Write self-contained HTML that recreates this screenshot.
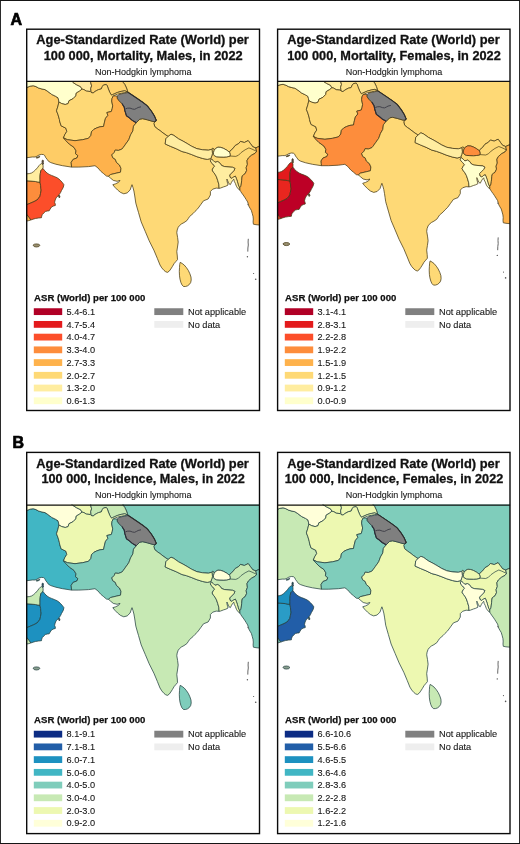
<!DOCTYPE html>
<html><head><meta charset="utf-8"><title>Non-Hodgkin lymphoma ASR maps</title>
<style>
html,body{margin:0;padding:0;background:#fff;}
body{width:520px;height:844px;overflow:hidden;font-family:"Liberation Sans",sans-serif;}
svg{display:block;will-change:transform}
text{font-family:"Liberation Sans",sans-serif;fill:#111}
.t1{font-weight:bold;font-size:12.8px;stroke:#111;stroke-width:0.3px}
.t3{font-size:8.6px;fill:#161616;stroke:#161616;stroke-width:0.1px}
.lt{font-weight:bold;font-size:9.5px;stroke:#111;stroke-width:0.25px}
.ll{font-size:9.2px;fill:#161616;stroke:#161616;stroke-width:0.1px}
.pl{font-weight:bold;font-size:16px;fill:#000;stroke:#000;stroke-width:0.7px}
.c{stroke-width:0.75;stroke-linejoin:round}
</style></head><body>
<svg width="520" height="844" viewBox="0 0 520 844">
<rect x="0" y="0" width="520" height="844" fill="#fff"/>
<path d="M0 0H520V844H0Z M0.9 0.95V842.9H519.1V0.95Z" fill="#151515" fill-rule="evenodd"/>
<text class="pl" x="10.4" y="25.0">A</text>
<text class="pl" x="12.45" y="447.65">B</text>

<g>
<clipPath id="cp0"><rect x="26.7" y="81.3" width="232.8" height="329.2"/></clipPath>
<g clip-path="url(#cp0)"><g transform="translate(0.0 0.0)">
<g style="stroke:#453a16">
<path class="c" fill="#fed976" d="M127.7 92.0 L126.5 88.0 L124.8 84.5 L123.0 82.2 L122.0 74.0 L268.0 74.0 L268.0 146.0 L259.3 146.4 L258.2 146.8 L255.8 147.9 L252.8 146.8 L250.5 143.7 L248.2 140.6 L244.3 142.5 L240.5 141.4 L238.5 143.7 L235.1 145.6 L232.8 148.7 L229.9 151.2 L229.6 152.3 L226.8 150.2 L223.8 148.5 L220.8 147.4 L217.9 147.2 L215.4 148.6 L214.3 150.2 L213.8 148.9 L212.8 148.3 L211.9 149.2 L208.5 150.2 L202.7 149.8 L196.9 148.7 L191.7 146.3 L187.1 143.5 L183.1 141.2 L178.5 138.8 L173.8 135.4 L171.0 134.2 L168.1 136.5 L164.0 133.7 L160.0 130.6 L157.5 128.9 L154.8 126.7 L153.8 123.3 L155.0 121.6 L156.3 120.4 L154.2 115.6 L151.3 111.0 L147.3 105.8 L142.7 102.3 L136.9 98.3 L131.7 94.8 L128.3 92.5 L127.7 92.0Z"/>
<path class="c" fill="#fecc66" d="M18.0 88.2 L26.8 87.5 L30.0 86.2 L33.2 85.7 L36.0 86.6 L38.6 88.0 L42.0 89.0 L45.0 89.6 L47.9 91.5 L51.7 94.4 L55.6 96.3 L58.0 97.8 L58.6 100.0 L58.9 102.1 L58.0 106.0 L56.5 110.8 L58.0 114.6 L59.4 119.4 L59.6 121.0 L61.1 125.8 L65.9 128.2 L66.8 131.5 L64.9 134.4 L63.5 137.8 L65.9 140.7 L69.2 144.0 L74.0 147.4 L76.0 150.8 L75.5 153.7 L77.9 155.6 L76.9 158.0 L73.1 159.4 L71.2 162.3 L71.4 165.0 L71.6 167.1 L62.5 165.7 L55.8 164.2 L50.8 162.6 L48.6 161.4 L47.0 159.2 L45.6 157.4 L44.8 155.6 L43.5 154.6 L41.5 154.4 L39.0 155.0 L37.0 156.2 L35.0 157.0 L32.3 157.0 L26.9 157.7 L18.0 158.2Z"/>
<path class="c" fill="#ffffcc" d="M58.9 102.1 L58.6 100.0 L58.0 97.8 L55.6 96.3 L51.7 94.4 L47.9 91.5 L45.0 89.6 L42.0 89.0 L38.6 88.0 L36.0 86.6 L33.2 85.7 L30.0 86.2 L26.8 87.5 L18.0 88.2 L18.0 74.0 L71.0 74.0 L71.5 81.0 L72.9 82.4 L76.7 84.8 L80.6 86.7 L82.0 89.1 L79.6 91.1 L76.3 93.0 L75.8 95.9 L72.9 98.8 L69.0 100.7 L68.1 103.6 L65.2 104.5 L61.8 103.6 L58.9 102.1Z"/>
<path class="c" fill="#ffe9a0" d="M82.0 89.1 L80.6 86.7 L76.7 84.8 L72.9 82.4 L71.5 81.0 L71.0 74.0 L91.0 74.0 L90.7 82.4 L91.6 85.8 L90.7 88.7 L91.2 92.5 L90.2 91.5 L86.3 91.1 L83.9 89.6 L82.0 89.1Z"/>
<path class="c" fill="#fed26e" d="M91.2 92.5 L90.7 88.7 L91.6 85.8 L90.7 82.4 L91.0 74.0 L122.0 74.0 L123.0 82.2 L124.8 84.5 L126.5 88.0 L127.7 92.0 L124.8 90.8 L121.3 91.4 L117.3 92.5 L112.7 94.6 L111.5 95.2 L109.8 92.5 L108.0 88.0 L107.4 86.0 L106.3 84.5 L103.5 85.0 L102.3 86.6 L101.2 89.0 L98.5 89.6 L96.2 90.8 L95.0 91.5 L93.1 93.0 L91.2 92.5Z"/>
<path class="c" fill="#fed976" d="M58.9 102.1 L61.8 103.6 L65.2 104.5 L68.1 103.6 L69.0 100.7 L72.9 98.8 L75.8 95.9 L76.3 93.0 L79.6 91.1 L82.0 89.1 L83.9 89.6 L86.3 91.1 L90.2 91.5 L91.2 92.5 L93.1 93.0 L95.0 91.5 L96.2 90.8 L98.5 89.6 L101.2 89.0 L102.3 86.6 L103.5 85.0 L106.3 84.5 L107.4 86.0 L108.0 88.0 L109.8 92.5 L111.5 95.2 L112.7 94.6 L117.3 92.5 L121.3 91.4 L124.8 90.8 L127.7 92.0 L124.8 92.6 L121.5 93.2 L117.3 94.2 L113.3 95.9 L112.1 98.3 L111.7 101.0 L112.7 105.8 L112.2 108.7 L111.3 111.5 L106.9 112.5 L107.9 115.4 L105.5 118.3 L104.5 122.1 L104.1 124.0 L103.6 126.4 L100.0 126.8 L96.8 127.9 L93.9 129.3 L91.5 131.7 L90.9 135.4 L88.5 138.3 L82.7 139.7 L75.0 140.7 L67.3 139.7 L63.5 137.8 L64.9 134.4 L66.8 131.5 L65.9 128.2 L61.1 125.8 L59.6 121.0 L59.4 119.4 L58.0 114.6 L56.5 110.8 L58.0 106.0 L58.9 102.1Z"/>
<path class="c" fill="#feb24c" d="M63.5 137.8 L67.3 139.7 L75.0 140.7 L82.7 139.7 L88.5 138.3 L90.9 135.4 L91.5 131.7 L93.9 129.3 L96.8 127.9 L100.0 126.8 L103.6 126.4 L104.1 124.0 L104.5 122.1 L105.5 118.3 L107.9 115.4 L106.9 112.5 L111.3 111.5 L112.2 108.7 L112.7 105.8 L111.7 101.0 L112.1 98.3 L113.3 95.9 L117.3 96.0 L117.3 98.3 L119.0 100.6 L121.9 103.5 L124.2 107.0 L124.8 110.4 L126.5 115.8 L129.4 117.9 L132.3 120.4 L136.3 122.7 L133.5 126.2 L132.9 130.8 L130.6 134.8 L128.8 139.7 L125.6 144.2 L123.1 147.7 L121.9 149.1 L118.5 150.4 L115.2 150.1 L114.2 152.5 L111.8 154.9 L112.8 157.8 L115.2 159.2 L116.6 162.6 L119.5 165.0 L121.0 168.4 L120.5 172.2 L116.2 173.2 L110.4 174.6 L108.5 176.3 L106.5 176.1 L103.7 173.7 L100.8 171.3 L97.9 167.9 L95.0 165.7 L93.0 166.0 L88.5 166.6 L78.8 167.1 L71.6 167.1 L71.4 165.0 L71.2 162.3 L73.1 159.4 L76.9 158.0 L77.9 155.6 L75.5 153.7 L76.0 150.8 L74.0 147.4 L69.2 144.0 L65.9 140.7 L63.5 137.8Z"/>
<path class="c" fill="#fed976" d="M108.5 176.3 L110.4 174.6 L116.2 173.2 L120.5 172.2 L121.0 168.4 L119.5 165.0 L116.6 162.6 L115.2 159.2 L112.8 157.8 L111.8 154.9 L114.2 152.5 L115.2 150.1 L118.5 150.4 L121.9 149.1 L123.1 147.7 L125.6 144.2 L128.8 139.7 L130.6 134.8 L132.9 130.8 L133.5 126.2 L136.3 122.7 L139.8 119.2 L142.7 118.7 L147.3 119.8 L153.1 121.5 L155.0 121.6 L153.8 123.3 L154.8 126.7 L157.5 128.9 L160.0 130.6 L164.0 133.7 L168.1 136.5 L165.8 138.8 L165.2 144.0 L170.4 146.3 L176.2 148.7 L181.9 151.5 L186.5 152.7 L191.2 154.4 L196.9 156.7 L202.7 158.5 L207.3 159.4 L210.8 158.5 L211.8 156.0 L212.5 153.3 L211.9 149.2 L212.8 148.3 L213.8 148.9 L214.3 150.2 L213.5 152.3 L213.5 154.3 L214.6 155.9 L216.7 156.8 L220.0 157.0 L223.8 157.1 L226.5 156.9 L229.8 156.3 L230.2 154.6 L229.6 152.3 L229.9 151.2 L232.8 148.7 L235.1 145.6 L238.5 143.7 L240.5 141.4 L244.3 142.5 L248.2 140.6 L250.5 143.7 L252.8 146.8 L255.8 147.9 L256.6 151.4 L255.1 153.3 L251.6 155.2 L248.5 157.9 L247.0 160.6 L247.4 164.5 L246.2 167.5 L246.6 170.6 L245.1 173.7 L243.5 174.8 L242.3 175.8 L241.9 178.0 L241.7 180.5 L241.4 183.0 L241.1 185.3 L240.6 186.7 L239.9 187.7 L239.2 187.3 L238.1 184.2 L237.3 181.2 L236.2 178.1 L235.4 176.2 L233.5 176.9 L231.9 178.5 L230.0 177.3 L229.6 175.0 L231.5 173.1 L233.8 170.8 L235.0 168.5 L232.7 167.3 L228.1 166.9 L224.2 166.5 L221.5 165.4 L220.0 163.1 L217.7 161.5 L215.0 162.3 L213.3 160.6 L211.4 159.0 L210.4 160.8 L211.0 162.3 L212.6 163.8 L214.6 166.2 L213.3 167.7 L212.1 170.0 L213.5 172.3 L215.0 174.2 L216.5 176.9 L217.7 180.4 L218.8 184.2 L219.1 188.3 L216.2 188.1 L212.7 189.2 L210.4 191.5 L210.4 195.0 L208.1 199.0 L203.5 200.8 L200.6 204.8 L197.7 208.8 L195.0 211.4 L193.1 213.5 L189.6 216.5 L188.3 218.5 L186.9 220.6 L184.0 222.6 L181.5 223.9 L179.3 225.8 L178.2 227.3 L177.2 230.0 L176.8 232.7 L177.6 237.5 L178.2 242.1 L177.5 247.0 L176.8 251.5 L177.3 256.0 L177.5 259.6 L175.8 261.6 L174.1 263.6 L172.4 266.5 L170.8 269.0 L169.2 271.2 L167.4 272.4 L165.6 271.7 L164.0 270.4 L161.8 267.9 L160.0 265.0 L157.3 258.3 L153.9 250.2 L149.2 240.8 L145.2 231.3 L141.2 221.9 L138.5 212.5 L136.9 207.0 L135.8 203.1 L135.2 199.0 L134.6 195.0 L133.9 191.0 L133.0 187.6 L132.0 184.7 L131.1 187.1 L130.1 190.0 L127.2 192.9 L123.8 193.8 L120.5 192.4 L117.6 190.0 L114.7 187.1 L112.8 184.7 L115.7 183.8 L118.6 182.3 L120.0 180.4 L117.1 181.3 L113.3 180.4 L110.4 178.0 L108.5 176.3Z"/>
<path class="c" fill="#ffeda0" d="M168.1 136.5 L171.0 134.2 L173.8 135.4 L178.5 138.8 L183.1 141.2 L187.1 143.5 L191.7 146.3 L196.9 148.7 L202.7 149.8 L208.5 150.2 L211.9 149.2 L212.5 153.3 L211.8 156.0 L210.8 158.5 L207.3 159.4 L202.7 158.5 L196.9 156.7 L191.2 154.4 L186.5 152.7 L181.9 151.5 L176.2 148.7 L170.4 146.3 L165.2 144.0 L165.8 138.8 L168.1 136.5Z"/>
<path class="c" fill="#ffffcc" d="M214.3 150.2 L215.4 148.6 L217.9 147.2 L220.8 147.4 L223.8 148.5 L226.8 150.2 L229.6 152.3 L230.2 154.6 L229.8 156.3 L226.5 156.9 L223.8 157.1 L220.0 157.0 L216.7 156.8 L214.6 155.9 L213.5 154.3 L213.5 152.3 L214.3 150.2Z"/>
<path class="c" fill="#ffeda0" d="M210.4 160.8 L211.4 159.0 L213.3 160.6 L215.0 162.3 L217.7 161.5 L220.0 163.1 L221.5 165.4 L224.2 166.5 L228.1 166.9 L232.7 167.3 L235.0 168.5 L233.8 170.8 L231.5 173.1 L229.6 175.0 L230.0 177.3 L231.9 178.5 L233.5 176.9 L235.4 176.2 L236.2 178.1 L237.3 181.2 L238.1 184.2 L239.2 187.3 L239.9 187.7 L239.9 190.1 L238.1 188.8 L236.5 186.5 L235.4 183.5 L234.2 181.2 L233.8 179.2 L232.7 180.4 L231.5 182.3 L230.4 184.6 L229.2 184.0 L228.3 182.2 L227.5 180.3 L226.9 179.0 L227.0 181.0 L227.6 183.4 L228.1 185.0 L225.8 186.2 L223.5 186.9 L220.4 188.1 L219.1 188.3 L218.8 184.2 L217.7 180.4 L216.5 176.9 L215.0 174.2 L213.5 172.3 L212.1 170.0 L213.3 167.7 L214.6 166.2 L212.6 163.8 L211.0 162.3 L210.4 160.8Z"/>
<path class="c" fill="#feb24c" d="M255.8 147.9 L258.2 146.8 L259.3 146.4 L268.0 146.0 L268.0 225.2 L259.3 225.0 L256.0 224.7 L253.4 224.2 L253.1 222.0 L253.3 219.0 L253.0 216.3 L252.2 213.3 L251.3 210.3 L250.0 208.2 L248.9 206.2 L248.2 204.0 L247.7 202.0 L246.2 199.6 L244.7 197.2 L243.2 195.0 L241.7 193.0 L240.8 191.6 L239.9 190.1 L239.9 187.7 L240.6 186.7 L241.1 185.3 L241.4 183.0 L241.7 180.5 L241.9 178.0 L242.3 175.8 L243.5 174.8 L245.1 173.7 L246.6 170.6 L246.2 167.5 L247.4 164.5 L247.0 160.6 L248.5 157.9 L251.6 155.2 L255.1 153.3 L256.6 151.4 L255.8 147.9Z"/>
<path class="c" fill="#fed976" d="M180.2 262.3 L182.2 263.5 L184.2 265.0 L186.4 267.6 L188.3 270.4 L189.9 273.8 L191.0 277.1 L191.2 280.0 L190.7 282.5 L189.4 284.4 L187.6 285.8 L185.5 286.5 L183.5 286.5 L182.0 284.9 L180.9 282.5 L180.0 279.2 L179.5 275.8 L179.3 271.5 L179.5 267.7 L179.7 264.6Z"/>
<path class="c" fill="#fd8d3c" d="M18.0 180.4 L26.9 180.8 L31.0 181.1 L35.4 181.5 L37.8 182.0 L40.0 182.3 L40.6 185.5 L40.8 188.5 L41.2 190.0 L40.5 193.5 L40.0 196.2 L38.6 198.2 L37.0 200.0 L34.0 201.6 L30.8 203.0 L26.9 204.6 L18.0 208.0Z"/>
<path class="c" fill="#ffeda0" d="M18.0 174.5 L26.9 173.8 L29.3 173.6 L31.5 173.0 L33.5 171.7 L35.4 170.0 L37.4 167.8 L39.2 165.4 L40.4 164.2 L41.6 163.6 L42.6 164.2 L43.1 165.6 L43.1 167.0 L43.0 168.5 L41.8 169.5 L40.8 170.8 L40.3 173.5 L40.0 176.2 L40.0 179.3 L40.0 182.3 L37.8 182.0 L35.4 181.5 L31.0 181.1 L26.9 180.8 L18.0 180.4Z"/>
<path class="c" fill="#fc4e2a" d="M43.0 168.5 L44.8 170.8 L47.0 173.0 L49.2 174.4 L51.5 175.4 L54.3 176.5 L57.0 177.7 L59.0 179.1 L60.8 180.8 L62.5 182.7 L63.9 184.7 L63.4 187.0 L62.3 189.2 L61.5 190.5 L60.6 192.5 L59.2 194.6 L57.8 196.2 L56.2 197.7 L55.2 200.0 L54.6 202.3 L55.2 203.8 L55.4 205.4 L53.5 206.0 L51.5 207.0 L50.2 209.0 L49.2 210.8 L47.3 211.0 L45.4 211.5 L43.8 213.0 L42.3 214.6 L41.7 216.2 L41.5 217.7 L38.5 218.0 L35.4 218.5 L33.0 219.2 L30.8 220.0 L29.0 217.5 L26.9 214.6 L18.0 208.5 L18.0 208.0 L26.9 204.6 L30.8 203.0 L34.0 201.6 L37.0 200.0 L38.6 198.2 L40.0 196.2 L40.5 193.5 L41.2 190.0 L40.8 188.5 L40.6 185.5 L40.0 182.3 L40.0 179.3 L40.0 176.2 L40.3 173.5 L40.8 170.8 L41.8 169.5 L43.0 168.5Z"/>
<path class="c" fill="#feb24c" d="M30.8 220.0 L29.0 217.5 L26.9 214.6 L18.0 208.5 L18.0 222.0 L26.9 221.0 L28.8 220.6 L30.8 220.0Z"/>
<path class="c" fill="#5b4b55" d="M42.2 160.4 L42.9 160.0 L43.4 160.8 L43.3 162.4 L43.5 164.0 L42.8 164.5 L42.2 163.2 L42.0 161.6Z"/>
<path class="c" fill="#5b4b55" d="M58.7 195.2 L59.6 195.5 L60.0 197.0 L59.3 197.9 L58.7 196.8Z"/>
<path class="c" fill="#6b6040" d="M36.3 157.6 L38.2 156.9 L39.6 156.3 L39.8 156.9 L38.4 157.7 L36.6 158.2Z"/>
<path class="c" fill="#9a9070" d="M33.0 245.2 L34.4 244.2 L36.6 243.9 L38.8 244.3 L40.0 245.4 L38.8 246.6 L36.4 247.0 L34.2 246.6Z"/>
<path class="c" fill="#7f7f7f" d="M117.3 96.0 L119.0 94.3 L124.8 93.1 L128.3 92.5 L131.7 94.8 L136.9 98.3 L142.7 102.3 L147.3 105.8 L151.3 111.0 L154.2 115.6 L156.3 120.4 L155.0 121.6 L153.1 121.5 L147.3 119.8 L142.7 118.7 L139.8 119.2 L136.3 122.7 L132.3 120.4 L129.4 117.9 L126.5 115.8 L124.8 110.4 L124.2 107.0 L121.9 103.5 L119.0 100.6 L117.3 98.3Z"/>
</g>
<path d="M125.3 108.9 L127.5 108.2 L130.0 108.1 L132.5 109.0 L134.6 109.3 L136.5 108.4 L138.1 107.5 L141.0 106.8" fill="none" stroke="#3a3a44" stroke-width="0.9"/>
<path d="M127.7 92.0 L128.3 92.5 L131.7 94.8 L136.9 98.3 L142.7 102.3 L147.3 105.8 L151.3 111.0 L154.2 115.6 L156.3 120.4 L155.0 121.6" fill="none" stroke="#2c2c2c" stroke-width="1.1"/>
<path d="M121.9 103.5 L124.2 107.0 L124.8 110.4 L126.5 115.8 L129.4 117.9 L132.3 120.4 L136.3 122.7" fill="none" stroke="#2c2c38" stroke-width="1.1"/>
<path d="M229.9 156.0 L235.8 156.4 L238.5 155.2 L241.2 152.5 L245.1 149.8 L248.9 147.9 L252.0 149.1 L255.1 150.6 L256.6 151.4" fill="none" stroke="#453a16" stroke-width="0.7"/>
<path d="M248.3 238.8 L248.1 242.0 L248.3 245.0 L247.9 248.0 L247.8 251.6" fill="none" stroke="#555" stroke-width="0.9"/>
<circle cx="247.4" cy="256.8" r="0.7" fill="#555"/>
<circle cx="253.6" cy="273.5" r="0.6" fill="#555"/>
<circle cx="255.7" cy="279.3" r="0.8" fill="#555"/>
<circle cx="248.0" cy="204.6" r="0.6" fill="#555"/>
</g></g>
<rect x="26.7" y="29.2" width="232.8" height="381.3" fill="none" stroke="#0a0a0a" stroke-width="1.4"/>
<line x1="26.7" y1="81.3" x2="259.5" y2="81.3" stroke="#111" stroke-width="1.3"/>
<text class="t1" text-anchor="middle" x="142.6" y="43.8" textLength="212.5" lengthAdjust="spacingAndGlyphs">Age-Standardized Rate (World) per</text>
<text class="t1" text-anchor="middle" x="143.2" y="59.5" textLength="199.0" lengthAdjust="spacingAndGlyphs">100 000, Mortality, Males, in 2022</text>
<text class="t3" text-anchor="middle" x="143.2" y="75.1" textLength="96.6" lengthAdjust="spacingAndGlyphs">Non-Hodgkin lymphoma</text>
<text class="lt" x="34.1" y="300.9" textLength="111.3" lengthAdjust="spacingAndGlyphs">ASR (World) per 100 000</text>
<rect x="33.8" y="308.25" width="28.4" height="6.8" fill="#b10026"/>
<text class="ll" x="66.5" y="314.85">5.4-6.1</text>
<rect x="33.8" y="320.98" width="28.4" height="6.8" fill="#e31a1c"/>
<text class="ll" x="66.5" y="327.58">4.7-5.4</text>
<rect x="33.8" y="333.71" width="28.4" height="6.8" fill="#fc4e2a"/>
<text class="ll" x="66.5" y="340.31">4.0-4.7</text>
<rect x="33.8" y="346.44" width="28.4" height="6.8" fill="#fd8d3c"/>
<text class="ll" x="66.5" y="353.04">3.3-4.0</text>
<rect x="33.8" y="359.17" width="28.4" height="6.8" fill="#feb24c"/>
<text class="ll" x="66.5" y="365.77">2.7-3.3</text>
<rect x="33.8" y="371.90" width="28.4" height="6.8" fill="#fed976"/>
<text class="ll" x="66.5" y="378.50">2.0-2.7</text>
<rect x="33.8" y="384.63" width="28.4" height="6.8" fill="#ffeda0"/>
<text class="ll" x="66.5" y="391.23">1.3-2.0</text>
<rect x="33.8" y="397.36" width="28.4" height="6.8" fill="#ffffcc"/>
<text class="ll" x="66.5" y="403.96">0.6-1.3</text>
<rect x="154.3" y="308.25" width="29" height="6.8" fill="#808080"/>
<text class="ll" x="188.0" y="314.85">Not applicable</text>
<rect x="154.3" y="320.98" width="29" height="6.8" fill="#eeeeee"/>
<text class="ll" x="188.0" y="327.58">No data</text>
</g>
<g>
<clipPath id="cp1"><rect x="277.6" y="81.3" width="232.4" height="329.2"/></clipPath>
<g clip-path="url(#cp1)"><g transform="translate(249.9 -1.4)">
<g style="stroke:#453a16">
<path class="c" fill="#fed976" d="M127.7 92.0 L126.5 88.0 L124.8 84.5 L123.0 82.2 L122.0 74.0 L268.0 74.0 L268.0 146.0 L259.3 146.4 L258.2 146.8 L255.8 147.9 L252.8 146.8 L250.5 143.7 L248.2 140.6 L244.3 142.5 L240.5 141.4 L238.5 143.7 L235.1 145.6 L232.8 148.7 L229.9 151.2 L229.6 152.3 L226.8 150.2 L223.8 148.5 L220.8 147.4 L217.9 147.2 L215.4 148.6 L214.3 150.2 L213.8 148.9 L212.8 148.3 L211.9 149.2 L208.5 150.2 L202.7 149.8 L196.9 148.7 L191.7 146.3 L187.1 143.5 L183.1 141.2 L178.5 138.8 L173.8 135.4 L171.0 134.2 L168.1 136.5 L164.0 133.7 L160.0 130.6 L157.5 128.9 L154.8 126.7 L153.8 123.3 L155.0 121.6 L156.3 120.4 L154.2 115.6 L151.3 111.0 L147.3 105.8 L142.7 102.3 L136.9 98.3 L131.7 94.8 L128.3 92.5 L127.7 92.0Z"/>
<path class="c" fill="#fed976" d="M18.0 88.2 L26.8 87.5 L30.0 86.2 L33.2 85.7 L36.0 86.6 L38.6 88.0 L42.0 89.0 L45.0 89.6 L47.9 91.5 L51.7 94.4 L55.6 96.3 L58.0 97.8 L58.6 100.0 L58.9 102.1 L58.0 106.0 L56.5 110.8 L58.0 114.6 L59.4 119.4 L59.6 121.0 L61.1 125.8 L65.9 128.2 L66.8 131.5 L64.9 134.4 L63.5 137.8 L65.9 140.7 L69.2 144.0 L74.0 147.4 L76.0 150.8 L75.5 153.7 L77.9 155.6 L76.9 158.0 L73.1 159.4 L71.2 162.3 L71.4 165.0 L71.6 167.1 L62.5 165.7 L55.8 164.2 L50.8 162.6 L48.6 161.4 L47.0 159.2 L45.6 157.4 L44.8 155.6 L43.5 154.6 L41.5 154.4 L39.0 155.0 L37.0 156.2 L35.0 157.0 L32.3 157.0 L26.9 157.7 L18.0 158.2Z"/>
<path class="c" fill="#ffffcc" d="M58.9 102.1 L58.6 100.0 L58.0 97.8 L55.6 96.3 L51.7 94.4 L47.9 91.5 L45.0 89.6 L42.0 89.0 L38.6 88.0 L36.0 86.6 L33.2 85.7 L30.0 86.2 L26.8 87.5 L18.0 88.2 L18.0 74.0 L71.0 74.0 L71.5 81.0 L72.9 82.4 L76.7 84.8 L80.6 86.7 L82.0 89.1 L79.6 91.1 L76.3 93.0 L75.8 95.9 L72.9 98.8 L69.0 100.7 L68.1 103.6 L65.2 104.5 L61.8 103.6 L58.9 102.1Z"/>
<path class="c" fill="#ffeda0" d="M82.0 89.1 L80.6 86.7 L76.7 84.8 L72.9 82.4 L71.5 81.0 L71.0 74.0 L91.0 74.0 L90.7 82.4 L91.6 85.8 L90.7 88.7 L91.2 92.5 L90.2 91.5 L86.3 91.1 L83.9 89.6 L82.0 89.1Z"/>
<path class="c" fill="#fee38c" d="M91.2 92.5 L90.7 88.7 L91.6 85.8 L90.7 82.4 L91.0 74.0 L122.0 74.0 L123.0 82.2 L124.8 84.5 L126.5 88.0 L127.7 92.0 L124.8 90.8 L121.3 91.4 L117.3 92.5 L112.7 94.6 L111.5 95.2 L109.8 92.5 L108.0 88.0 L107.4 86.0 L106.3 84.5 L103.5 85.0 L102.3 86.6 L101.2 89.0 L98.5 89.6 L96.2 90.8 L95.0 91.5 L93.1 93.0 L91.2 92.5Z"/>
<path class="c" fill="#fed976" d="M58.9 102.1 L61.8 103.6 L65.2 104.5 L68.1 103.6 L69.0 100.7 L72.9 98.8 L75.8 95.9 L76.3 93.0 L79.6 91.1 L82.0 89.1 L83.9 89.6 L86.3 91.1 L90.2 91.5 L91.2 92.5 L93.1 93.0 L95.0 91.5 L96.2 90.8 L98.5 89.6 L101.2 89.0 L102.3 86.6 L103.5 85.0 L106.3 84.5 L107.4 86.0 L108.0 88.0 L109.8 92.5 L111.5 95.2 L112.7 94.6 L117.3 92.5 L121.3 91.4 L124.8 90.8 L127.7 92.0 L124.8 92.6 L121.5 93.2 L117.3 94.2 L113.3 95.9 L112.1 98.3 L111.7 101.0 L112.7 105.8 L112.2 108.7 L111.3 111.5 L106.9 112.5 L107.9 115.4 L105.5 118.3 L104.5 122.1 L104.1 124.0 L103.6 126.4 L100.0 126.8 L96.8 127.9 L93.9 129.3 L91.5 131.7 L90.9 135.4 L88.5 138.3 L82.7 139.7 L75.0 140.7 L67.3 139.7 L63.5 137.8 L64.9 134.4 L66.8 131.5 L65.9 128.2 L61.1 125.8 L59.6 121.0 L59.4 119.4 L58.0 114.6 L56.5 110.8 L58.0 106.0 L58.9 102.1Z"/>
<path class="c" fill="#fd8d3c" d="M63.5 137.8 L67.3 139.7 L75.0 140.7 L82.7 139.7 L88.5 138.3 L90.9 135.4 L91.5 131.7 L93.9 129.3 L96.8 127.9 L100.0 126.8 L103.6 126.4 L104.1 124.0 L104.5 122.1 L105.5 118.3 L107.9 115.4 L106.9 112.5 L111.3 111.5 L112.2 108.7 L112.7 105.8 L111.7 101.0 L112.1 98.3 L113.3 95.9 L117.3 96.0 L117.3 98.3 L119.0 100.6 L121.9 103.5 L124.2 107.0 L124.8 110.4 L126.5 115.8 L129.4 117.9 L132.3 120.4 L136.3 122.7 L133.5 126.2 L132.9 130.8 L130.6 134.8 L128.8 139.7 L125.6 144.2 L123.1 147.7 L121.9 149.1 L118.5 150.4 L115.2 150.1 L114.2 152.5 L111.8 154.9 L112.8 157.8 L115.2 159.2 L116.6 162.6 L119.5 165.0 L121.0 168.4 L120.5 172.2 L116.2 173.2 L110.4 174.6 L108.5 176.3 L106.5 176.1 L103.7 173.7 L100.8 171.3 L97.9 167.9 L95.0 165.7 L93.0 166.0 L88.5 166.6 L78.8 167.1 L71.6 167.1 L71.4 165.0 L71.2 162.3 L73.1 159.4 L76.9 158.0 L77.9 155.6 L75.5 153.7 L76.0 150.8 L74.0 147.4 L69.2 144.0 L65.9 140.7 L63.5 137.8Z"/>
<path class="c" fill="#fed976" d="M108.5 176.3 L110.4 174.6 L116.2 173.2 L120.5 172.2 L121.0 168.4 L119.5 165.0 L116.6 162.6 L115.2 159.2 L112.8 157.8 L111.8 154.9 L114.2 152.5 L115.2 150.1 L118.5 150.4 L121.9 149.1 L123.1 147.7 L125.6 144.2 L128.8 139.7 L130.6 134.8 L132.9 130.8 L133.5 126.2 L136.3 122.7 L139.8 119.2 L142.7 118.7 L147.3 119.8 L153.1 121.5 L155.0 121.6 L153.8 123.3 L154.8 126.7 L157.5 128.9 L160.0 130.6 L164.0 133.7 L168.1 136.5 L165.8 138.8 L165.2 144.0 L170.4 146.3 L176.2 148.7 L181.9 151.5 L186.5 152.7 L191.2 154.4 L196.9 156.7 L202.7 158.5 L207.3 159.4 L210.8 158.5 L211.8 156.0 L212.5 153.3 L211.9 149.2 L212.8 148.3 L213.8 148.9 L214.3 150.2 L213.5 152.3 L213.5 154.3 L214.6 155.9 L216.7 156.8 L220.0 157.0 L223.8 157.1 L226.5 156.9 L229.8 156.3 L230.2 154.6 L229.6 152.3 L229.9 151.2 L232.8 148.7 L235.1 145.6 L238.5 143.7 L240.5 141.4 L244.3 142.5 L248.2 140.6 L250.5 143.7 L252.8 146.8 L255.8 147.9 L256.6 151.4 L255.1 153.3 L251.6 155.2 L248.5 157.9 L247.0 160.6 L247.4 164.5 L246.2 167.5 L246.6 170.6 L245.1 173.7 L243.5 174.8 L242.3 175.8 L241.9 178.0 L241.7 180.5 L241.4 183.0 L241.1 185.3 L240.6 186.7 L239.9 187.7 L239.2 187.3 L238.1 184.2 L237.3 181.2 L236.2 178.1 L235.4 176.2 L233.5 176.9 L231.9 178.5 L230.0 177.3 L229.6 175.0 L231.5 173.1 L233.8 170.8 L235.0 168.5 L232.7 167.3 L228.1 166.9 L224.2 166.5 L221.5 165.4 L220.0 163.1 L217.7 161.5 L215.0 162.3 L213.3 160.6 L211.4 159.0 L210.4 160.8 L211.0 162.3 L212.6 163.8 L214.6 166.2 L213.3 167.7 L212.1 170.0 L213.5 172.3 L215.0 174.2 L216.5 176.9 L217.7 180.4 L218.8 184.2 L219.1 188.3 L216.2 188.1 L212.7 189.2 L210.4 191.5 L210.4 195.0 L208.1 199.0 L203.5 200.8 L200.6 204.8 L197.7 208.8 L195.0 211.4 L193.1 213.5 L189.6 216.5 L188.3 218.5 L186.9 220.6 L184.0 222.6 L181.5 223.9 L179.3 225.8 L178.2 227.3 L177.2 230.0 L176.8 232.7 L177.6 237.5 L178.2 242.1 L177.5 247.0 L176.8 251.5 L177.3 256.0 L177.5 259.6 L175.8 261.6 L174.1 263.6 L172.4 266.5 L170.8 269.0 L169.2 271.2 L167.4 272.4 L165.6 271.7 L164.0 270.4 L161.8 267.9 L160.0 265.0 L157.3 258.3 L153.9 250.2 L149.2 240.8 L145.2 231.3 L141.2 221.9 L138.5 212.5 L136.9 207.0 L135.8 203.1 L135.2 199.0 L134.6 195.0 L133.9 191.0 L133.0 187.6 L132.0 184.7 L131.1 187.1 L130.1 190.0 L127.2 192.9 L123.8 193.8 L120.5 192.4 L117.6 190.0 L114.7 187.1 L112.8 184.7 L115.7 183.8 L118.6 182.3 L120.0 180.4 L117.1 181.3 L113.3 180.4 L110.4 178.0 L108.5 176.3Z"/>
<path class="c" fill="#ffeda0" d="M168.1 136.5 L171.0 134.2 L173.8 135.4 L178.5 138.8 L183.1 141.2 L187.1 143.5 L191.7 146.3 L196.9 148.7 L202.7 149.8 L208.5 150.2 L211.9 149.2 L212.5 153.3 L211.8 156.0 L210.8 158.5 L207.3 159.4 L202.7 158.5 L196.9 156.7 L191.2 154.4 L186.5 152.7 L181.9 151.5 L176.2 148.7 L170.4 146.3 L165.2 144.0 L165.8 138.8 L168.1 136.5Z"/>
<path class="c" fill="#fd8d3c" d="M214.3 150.2 L215.4 148.6 L217.9 147.2 L220.8 147.4 L223.8 148.5 L226.8 150.2 L229.6 152.3 L230.2 154.6 L229.8 156.3 L226.5 156.9 L223.8 157.1 L220.0 157.0 L216.7 156.8 L214.6 155.9 L213.5 154.3 L213.5 152.3 L214.3 150.2Z"/>
<path class="c" fill="#ffffcc" d="M210.4 160.8 L211.4 159.0 L213.3 160.6 L215.0 162.3 L217.7 161.5 L220.0 163.1 L221.5 165.4 L224.2 166.5 L228.1 166.9 L232.7 167.3 L235.0 168.5 L233.8 170.8 L231.5 173.1 L229.6 175.0 L230.0 177.3 L231.9 178.5 L233.5 176.9 L235.4 176.2 L236.2 178.1 L237.3 181.2 L238.1 184.2 L239.2 187.3 L239.9 187.7 L239.9 190.1 L238.1 188.8 L236.5 186.5 L235.4 183.5 L234.2 181.2 L233.8 179.2 L232.7 180.4 L231.5 182.3 L230.4 184.6 L229.2 184.0 L228.3 182.2 L227.5 180.3 L226.9 179.0 L227.0 181.0 L227.6 183.4 L228.1 185.0 L225.8 186.2 L223.5 186.9 L220.4 188.1 L219.1 188.3 L218.8 184.2 L217.7 180.4 L216.5 176.9 L215.0 174.2 L213.5 172.3 L212.1 170.0 L213.3 167.7 L214.6 166.2 L212.6 163.8 L211.0 162.3 L210.4 160.8Z"/>
<path class="c" fill="#feb24c" d="M255.8 147.9 L258.2 146.8 L259.3 146.4 L268.0 146.0 L268.0 225.2 L259.3 225.0 L256.0 224.7 L253.4 224.2 L253.1 222.0 L253.3 219.0 L253.0 216.3 L252.2 213.3 L251.3 210.3 L250.0 208.2 L248.9 206.2 L248.2 204.0 L247.7 202.0 L246.2 199.6 L244.7 197.2 L243.2 195.0 L241.7 193.0 L240.8 191.6 L239.9 190.1 L239.9 187.7 L240.6 186.7 L241.1 185.3 L241.4 183.0 L241.7 180.5 L241.9 178.0 L242.3 175.8 L243.5 174.8 L245.1 173.7 L246.6 170.6 L246.2 167.5 L247.4 164.5 L247.0 160.6 L248.5 157.9 L251.6 155.2 L255.1 153.3 L256.6 151.4 L255.8 147.9Z"/>
<path class="c" fill="#fed976" d="M180.2 262.3 L182.2 263.5 L184.2 265.0 L186.4 267.6 L188.3 270.4 L189.9 273.8 L191.0 277.1 L191.2 280.0 L190.7 282.5 L189.4 284.4 L187.6 285.8 L185.5 286.5 L183.5 286.5 L182.0 284.9 L180.9 282.5 L180.0 279.2 L179.5 275.8 L179.3 271.5 L179.5 267.7 L179.7 264.6Z"/>
<path class="c" fill="#e8261f" d="M18.0 180.4 L26.9 180.8 L31.0 181.1 L35.4 181.5 L37.8 182.0 L40.0 182.3 L40.6 185.5 L40.8 188.5 L41.2 190.0 L40.5 193.5 L40.0 196.2 L38.6 198.2 L37.0 200.0 L34.0 201.6 L30.8 203.0 L26.9 204.6 L18.0 208.0Z"/>
<path class="c" fill="#e31a1c" d="M18.0 174.5 L26.9 173.8 L29.3 173.6 L31.5 173.0 L33.5 171.7 L35.4 170.0 L37.4 167.8 L39.2 165.4 L40.4 164.2 L41.6 163.6 L42.6 164.2 L43.1 165.6 L43.1 167.0 L43.0 168.5 L41.8 169.5 L40.8 170.8 L40.3 173.5 L40.0 176.2 L40.0 179.3 L40.0 182.3 L37.8 182.0 L35.4 181.5 L31.0 181.1 L26.9 180.8 L18.0 180.4Z"/>
<path class="c" fill="#bd0026" d="M43.0 168.5 L44.8 170.8 L47.0 173.0 L49.2 174.4 L51.5 175.4 L54.3 176.5 L57.0 177.7 L59.0 179.1 L60.8 180.8 L62.5 182.7 L63.9 184.7 L63.4 187.0 L62.3 189.2 L61.5 190.5 L60.6 192.5 L59.2 194.6 L57.8 196.2 L56.2 197.7 L55.2 200.0 L54.6 202.3 L55.2 203.8 L55.4 205.4 L53.5 206.0 L51.5 207.0 L50.2 209.0 L49.2 210.8 L47.3 211.0 L45.4 211.5 L43.8 213.0 L42.3 214.6 L41.7 216.2 L41.5 217.7 L38.5 218.0 L35.4 218.5 L33.0 219.2 L30.8 220.0 L29.0 217.5 L26.9 214.6 L18.0 208.5 L18.0 208.0 L26.9 204.6 L30.8 203.0 L34.0 201.6 L37.0 200.0 L38.6 198.2 L40.0 196.2 L40.5 193.5 L41.2 190.0 L40.8 188.5 L40.6 185.5 L40.0 182.3 L40.0 179.3 L40.0 176.2 L40.3 173.5 L40.8 170.8 L41.8 169.5 L43.0 168.5Z"/>
<path class="c" fill="#fc4e2a" d="M30.8 220.0 L29.0 217.5 L26.9 214.6 L18.0 208.5 L18.0 222.0 L26.9 221.0 L28.8 220.6 L30.8 220.0Z"/>
<path class="c" fill="#5b4b55" d="M42.2 160.4 L42.9 160.0 L43.4 160.8 L43.3 162.4 L43.5 164.0 L42.8 164.5 L42.2 163.2 L42.0 161.6Z"/>
<path class="c" fill="#5b4b55" d="M58.7 195.2 L59.6 195.5 L60.0 197.0 L59.3 197.9 L58.7 196.8Z"/>
<path class="c" fill="#6b6040" d="M36.3 157.6 L38.2 156.9 L39.6 156.3 L39.8 156.9 L38.4 157.7 L36.6 158.2Z"/>
<path class="c" fill="#9a9070" d="M33.0 245.2 L34.4 244.2 L36.6 243.9 L38.8 244.3 L40.0 245.4 L38.8 246.6 L36.4 247.0 L34.2 246.6Z"/>
<path class="c" fill="#7f7f7f" d="M117.3 96.0 L119.0 94.3 L124.8 93.1 L128.3 92.5 L131.7 94.8 L136.9 98.3 L142.7 102.3 L147.3 105.8 L151.3 111.0 L154.2 115.6 L156.3 120.4 L155.0 121.6 L153.1 121.5 L147.3 119.8 L142.7 118.7 L139.8 119.2 L136.3 122.7 L132.3 120.4 L129.4 117.9 L126.5 115.8 L124.8 110.4 L124.2 107.0 L121.9 103.5 L119.0 100.6 L117.3 98.3Z"/>
</g>
<path d="M125.3 108.9 L127.5 108.2 L130.0 108.1 L132.5 109.0 L134.6 109.3 L136.5 108.4 L138.1 107.5 L141.0 106.8" fill="none" stroke="#3a3a44" stroke-width="0.9"/>
<path d="M127.7 92.0 L128.3 92.5 L131.7 94.8 L136.9 98.3 L142.7 102.3 L147.3 105.8 L151.3 111.0 L154.2 115.6 L156.3 120.4 L155.0 121.6" fill="none" stroke="#2c2c2c" stroke-width="1.1"/>
<path d="M121.9 103.5 L124.2 107.0 L124.8 110.4 L126.5 115.8 L129.4 117.9 L132.3 120.4 L136.3 122.7" fill="none" stroke="#2c2c38" stroke-width="1.1"/>
<path d="M229.9 156.0 L235.8 156.4 L238.5 155.2 L241.2 152.5 L245.1 149.8 L248.9 147.9 L252.0 149.1 L255.1 150.6 L256.6 151.4" fill="none" stroke="#453a16" stroke-width="0.7"/>
<path d="M248.3 238.8 L248.1 242.0 L248.3 245.0 L247.9 248.0 L247.8 251.6" fill="none" stroke="#555" stroke-width="0.9"/>
<circle cx="247.4" cy="256.8" r="0.7" fill="#555"/>
<circle cx="253.6" cy="273.5" r="0.6" fill="#555"/>
<circle cx="255.7" cy="279.3" r="0.8" fill="#555"/>
<circle cx="248.0" cy="204.6" r="0.6" fill="#555"/>
</g></g>
<rect x="277.6" y="29.2" width="232.4" height="381.3" fill="none" stroke="#0a0a0a" stroke-width="1.4"/>
<line x1="277.6" y1="81.3" x2="510.1" y2="81.3" stroke="#111" stroke-width="1.3"/>
<text class="t1" text-anchor="middle" x="393.4" y="43.8" textLength="212.5" lengthAdjust="spacingAndGlyphs">Age-Standardized Rate (World) per</text>
<text class="t1" text-anchor="middle" x="394.0" y="59.5" textLength="213.6" lengthAdjust="spacingAndGlyphs">100 000, Mortality, Females, in 2022</text>
<text class="t3" text-anchor="middle" x="394.0" y="75.1" textLength="96.6" lengthAdjust="spacingAndGlyphs">Non-Hodgkin lymphoma</text>
<text class="lt" x="285.1" y="300.9" textLength="111.3" lengthAdjust="spacingAndGlyphs">ASR (World) per 100 000</text>
<rect x="284.8" y="308.25" width="28.4" height="6.8" fill="#b10026"/>
<text class="ll" x="317.5" y="314.85">3.1-4.1</text>
<rect x="284.8" y="320.98" width="28.4" height="6.8" fill="#e31a1c"/>
<text class="ll" x="317.5" y="327.58">2.8-3.1</text>
<rect x="284.8" y="333.71" width="28.4" height="6.8" fill="#fc4e2a"/>
<text class="ll" x="317.5" y="340.31">2.2-2.8</text>
<rect x="284.8" y="346.44" width="28.4" height="6.8" fill="#fd8d3c"/>
<text class="ll" x="317.5" y="353.04">1.9-2.2</text>
<rect x="284.8" y="359.17" width="28.4" height="6.8" fill="#feb24c"/>
<text class="ll" x="317.5" y="365.77">1.5-1.9</text>
<rect x="284.8" y="371.90" width="28.4" height="6.8" fill="#fed976"/>
<text class="ll" x="317.5" y="378.50">1.2-1.5</text>
<rect x="284.8" y="384.63" width="28.4" height="6.8" fill="#ffeda0"/>
<text class="ll" x="317.5" y="391.23">0.9-1.2</text>
<rect x="284.8" y="397.36" width="28.4" height="6.8" fill="#ffffcc"/>
<text class="ll" x="317.5" y="403.96">0.0-0.9</text>
<rect x="405.3" y="308.25" width="29" height="6.8" fill="#808080"/>
<text class="ll" x="439.0" y="314.85">Not applicable</text>
<rect x="405.3" y="320.98" width="29" height="6.8" fill="#eeeeee"/>
<text class="ll" x="439.0" y="327.58">No data</text>
</g>
<g>
<clipPath id="cp2"><rect x="26.7" y="504.5" width="232.8" height="329.1"/></clipPath>
<g clip-path="url(#cp2)"><g transform="translate(0.0 423.0)">
<g style="stroke:#24403f">
<path class="c" fill="#7fcdbb" d="M127.7 92.0 L126.5 88.0 L124.8 84.5 L123.0 82.2 L122.0 74.0 L268.0 74.0 L268.0 146.0 L259.3 146.4 L258.2 146.8 L255.8 147.9 L252.8 146.8 L250.5 143.7 L248.2 140.6 L244.3 142.5 L240.5 141.4 L238.5 143.7 L235.1 145.6 L232.8 148.7 L229.9 151.2 L229.6 152.3 L226.8 150.2 L223.8 148.5 L220.8 147.4 L217.9 147.2 L215.4 148.6 L214.3 150.2 L213.8 148.9 L212.8 148.3 L211.9 149.2 L208.5 150.2 L202.7 149.8 L196.9 148.7 L191.7 146.3 L187.1 143.5 L183.1 141.2 L178.5 138.8 L173.8 135.4 L171.0 134.2 L168.1 136.5 L164.0 133.7 L160.0 130.6 L157.5 128.9 L154.8 126.7 L153.8 123.3 L155.0 121.6 L156.3 120.4 L154.2 115.6 L151.3 111.0 L147.3 105.8 L142.7 102.3 L136.9 98.3 L131.7 94.8 L128.3 92.5 L127.7 92.0Z"/>
<path class="c" fill="#41b6c4" d="M18.0 88.2 L26.8 87.5 L30.0 86.2 L33.2 85.7 L36.0 86.6 L38.6 88.0 L42.0 89.0 L45.0 89.6 L47.9 91.5 L51.7 94.4 L55.6 96.3 L58.0 97.8 L58.6 100.0 L58.9 102.1 L58.0 106.0 L56.5 110.8 L58.0 114.6 L59.4 119.4 L59.6 121.0 L61.1 125.8 L65.9 128.2 L66.8 131.5 L64.9 134.4 L63.5 137.8 L65.9 140.7 L69.2 144.0 L74.0 147.4 L76.0 150.8 L75.5 153.7 L77.9 155.6 L76.9 158.0 L73.1 159.4 L71.2 162.3 L71.4 165.0 L71.6 167.1 L62.5 165.7 L55.8 164.2 L50.8 162.6 L48.6 161.4 L47.0 159.2 L45.6 157.4 L44.8 155.6 L43.5 154.6 L41.5 154.4 L39.0 155.0 L37.0 156.2 L35.0 157.0 L32.3 157.0 L26.9 157.7 L18.0 158.2Z"/>
<path class="c" fill="#ffffd9" d="M58.9 102.1 L58.6 100.0 L58.0 97.8 L55.6 96.3 L51.7 94.4 L47.9 91.5 L45.0 89.6 L42.0 89.0 L38.6 88.0 L36.0 86.6 L33.2 85.7 L30.0 86.2 L26.8 87.5 L18.0 88.2 L18.0 74.0 L71.0 74.0 L71.5 81.0 L72.9 82.4 L76.7 84.8 L80.6 86.7 L82.0 89.1 L79.6 91.1 L76.3 93.0 L75.8 95.9 L72.9 98.8 L69.0 100.7 L68.1 103.6 L65.2 104.5 L61.8 103.6 L58.9 102.1Z"/>
<path class="c" fill="#edf8b1" d="M82.0 89.1 L80.6 86.7 L76.7 84.8 L72.9 82.4 L71.5 81.0 L71.0 74.0 L91.0 74.0 L90.7 82.4 L91.6 85.8 L90.7 88.7 L91.2 92.5 L90.2 91.5 L86.3 91.1 L83.9 89.6 L82.0 89.1Z"/>
<path class="c" fill="#c7e9b4" d="M91.2 92.5 L90.7 88.7 L91.6 85.8 L90.7 82.4 L91.0 74.0 L122.0 74.0 L123.0 82.2 L124.8 84.5 L126.5 88.0 L127.7 92.0 L124.8 90.8 L121.3 91.4 L117.3 92.5 L112.7 94.6 L111.5 95.2 L109.8 92.5 L108.0 88.0 L107.4 86.0 L106.3 84.5 L103.5 85.0 L102.3 86.6 L101.2 89.0 L98.5 89.6 L96.2 90.8 L95.0 91.5 L93.1 93.0 L91.2 92.5Z"/>
<path class="c" fill="#edf8b1" d="M58.9 102.1 L61.8 103.6 L65.2 104.5 L68.1 103.6 L69.0 100.7 L72.9 98.8 L75.8 95.9 L76.3 93.0 L79.6 91.1 L82.0 89.1 L83.9 89.6 L86.3 91.1 L90.2 91.5 L91.2 92.5 L93.1 93.0 L95.0 91.5 L96.2 90.8 L98.5 89.6 L101.2 89.0 L102.3 86.6 L103.5 85.0 L106.3 84.5 L107.4 86.0 L108.0 88.0 L109.8 92.5 L111.5 95.2 L112.7 94.6 L117.3 92.5 L121.3 91.4 L124.8 90.8 L127.7 92.0 L124.8 92.6 L121.5 93.2 L117.3 94.2 L113.3 95.9 L112.1 98.3 L111.7 101.0 L112.7 105.8 L112.2 108.7 L111.3 111.5 L106.9 112.5 L107.9 115.4 L105.5 118.3 L104.5 122.1 L104.1 124.0 L103.6 126.4 L100.0 126.8 L96.8 127.9 L93.9 129.3 L91.5 131.7 L90.9 135.4 L88.5 138.3 L82.7 139.7 L75.0 140.7 L67.3 139.7 L63.5 137.8 L64.9 134.4 L66.8 131.5 L65.9 128.2 L61.1 125.8 L59.6 121.0 L59.4 119.4 L58.0 114.6 L56.5 110.8 L58.0 106.0 L58.9 102.1Z"/>
<path class="c" fill="#7fcdbb" d="M63.5 137.8 L67.3 139.7 L75.0 140.7 L82.7 139.7 L88.5 138.3 L90.9 135.4 L91.5 131.7 L93.9 129.3 L96.8 127.9 L100.0 126.8 L103.6 126.4 L104.1 124.0 L104.5 122.1 L105.5 118.3 L107.9 115.4 L106.9 112.5 L111.3 111.5 L112.2 108.7 L112.7 105.8 L111.7 101.0 L112.1 98.3 L113.3 95.9 L117.3 96.0 L117.3 98.3 L119.0 100.6 L121.9 103.5 L124.2 107.0 L124.8 110.4 L126.5 115.8 L129.4 117.9 L132.3 120.4 L136.3 122.7 L133.5 126.2 L132.9 130.8 L130.6 134.8 L128.8 139.7 L125.6 144.2 L123.1 147.7 L121.9 149.1 L118.5 150.4 L115.2 150.1 L114.2 152.5 L111.8 154.9 L112.8 157.8 L115.2 159.2 L116.6 162.6 L119.5 165.0 L121.0 168.4 L120.5 172.2 L116.2 173.2 L110.4 174.6 L108.5 176.3 L106.5 176.1 L103.7 173.7 L100.8 171.3 L97.9 167.9 L95.0 165.7 L93.0 166.0 L88.5 166.6 L78.8 167.1 L71.6 167.1 L71.4 165.0 L71.2 162.3 L73.1 159.4 L76.9 158.0 L77.9 155.6 L75.5 153.7 L76.0 150.8 L74.0 147.4 L69.2 144.0 L65.9 140.7 L63.5 137.8Z"/>
<path class="c" fill="#c7e9b4" d="M108.5 176.3 L110.4 174.6 L116.2 173.2 L120.5 172.2 L121.0 168.4 L119.5 165.0 L116.6 162.6 L115.2 159.2 L112.8 157.8 L111.8 154.9 L114.2 152.5 L115.2 150.1 L118.5 150.4 L121.9 149.1 L123.1 147.7 L125.6 144.2 L128.8 139.7 L130.6 134.8 L132.9 130.8 L133.5 126.2 L136.3 122.7 L139.8 119.2 L142.7 118.7 L147.3 119.8 L153.1 121.5 L155.0 121.6 L153.8 123.3 L154.8 126.7 L157.5 128.9 L160.0 130.6 L164.0 133.7 L168.1 136.5 L165.8 138.8 L165.2 144.0 L170.4 146.3 L176.2 148.7 L181.9 151.5 L186.5 152.7 L191.2 154.4 L196.9 156.7 L202.7 158.5 L207.3 159.4 L210.8 158.5 L211.8 156.0 L212.5 153.3 L211.9 149.2 L212.8 148.3 L213.8 148.9 L214.3 150.2 L213.5 152.3 L213.5 154.3 L214.6 155.9 L216.7 156.8 L220.0 157.0 L223.8 157.1 L226.5 156.9 L229.8 156.3 L230.2 154.6 L229.6 152.3 L229.9 151.2 L232.8 148.7 L235.1 145.6 L238.5 143.7 L240.5 141.4 L244.3 142.5 L248.2 140.6 L250.5 143.7 L252.8 146.8 L255.8 147.9 L256.6 151.4 L255.1 153.3 L251.6 155.2 L248.5 157.9 L247.0 160.6 L247.4 164.5 L246.2 167.5 L246.6 170.6 L245.1 173.7 L243.5 174.8 L242.3 175.8 L241.9 178.0 L241.7 180.5 L241.4 183.0 L241.1 185.3 L240.6 186.7 L239.9 187.7 L239.2 187.3 L238.1 184.2 L237.3 181.2 L236.2 178.1 L235.4 176.2 L233.5 176.9 L231.9 178.5 L230.0 177.3 L229.6 175.0 L231.5 173.1 L233.8 170.8 L235.0 168.5 L232.7 167.3 L228.1 166.9 L224.2 166.5 L221.5 165.4 L220.0 163.1 L217.7 161.5 L215.0 162.3 L213.3 160.6 L211.4 159.0 L210.4 160.8 L211.0 162.3 L212.6 163.8 L214.6 166.2 L213.3 167.7 L212.1 170.0 L213.5 172.3 L215.0 174.2 L216.5 176.9 L217.7 180.4 L218.8 184.2 L219.1 188.3 L216.2 188.1 L212.7 189.2 L210.4 191.5 L210.4 195.0 L208.1 199.0 L203.5 200.8 L200.6 204.8 L197.7 208.8 L195.0 211.4 L193.1 213.5 L189.6 216.5 L188.3 218.5 L186.9 220.6 L184.0 222.6 L181.5 223.9 L179.3 225.8 L178.2 227.3 L177.2 230.0 L176.8 232.7 L177.6 237.5 L178.2 242.1 L177.5 247.0 L176.8 251.5 L177.3 256.0 L177.5 259.6 L175.8 261.6 L174.1 263.6 L172.4 266.5 L170.8 269.0 L169.2 271.2 L167.4 272.4 L165.6 271.7 L164.0 270.4 L161.8 267.9 L160.0 265.0 L157.3 258.3 L153.9 250.2 L149.2 240.8 L145.2 231.3 L141.2 221.9 L138.5 212.5 L136.9 207.0 L135.8 203.1 L135.2 199.0 L134.6 195.0 L133.9 191.0 L133.0 187.6 L132.0 184.7 L131.1 187.1 L130.1 190.0 L127.2 192.9 L123.8 193.8 L120.5 192.4 L117.6 190.0 L114.7 187.1 L112.8 184.7 L115.7 183.8 L118.6 182.3 L120.0 180.4 L117.1 181.3 L113.3 180.4 L110.4 178.0 L108.5 176.3Z"/>
<path class="c" fill="#edf8b1" d="M168.1 136.5 L171.0 134.2 L173.8 135.4 L178.5 138.8 L183.1 141.2 L187.1 143.5 L191.7 146.3 L196.9 148.7 L202.7 149.8 L208.5 150.2 L211.9 149.2 L212.5 153.3 L211.8 156.0 L210.8 158.5 L207.3 159.4 L202.7 158.5 L196.9 156.7 L191.2 154.4 L186.5 152.7 L181.9 151.5 L176.2 148.7 L170.4 146.3 L165.2 144.0 L165.8 138.8 L168.1 136.5Z"/>
<path class="c" fill="#ffffd9" d="M214.3 150.2 L215.4 148.6 L217.9 147.2 L220.8 147.4 L223.8 148.5 L226.8 150.2 L229.6 152.3 L230.2 154.6 L229.8 156.3 L226.5 156.9 L223.8 157.1 L220.0 157.0 L216.7 156.8 L214.6 155.9 L213.5 154.3 L213.5 152.3 L214.3 150.2Z"/>
<path class="c" fill="#edf8b1" d="M210.4 160.8 L211.4 159.0 L213.3 160.6 L215.0 162.3 L217.7 161.5 L220.0 163.1 L221.5 165.4 L224.2 166.5 L228.1 166.9 L232.7 167.3 L235.0 168.5 L233.8 170.8 L231.5 173.1 L229.6 175.0 L230.0 177.3 L231.9 178.5 L233.5 176.9 L235.4 176.2 L236.2 178.1 L237.3 181.2 L238.1 184.2 L239.2 187.3 L239.9 187.7 L239.9 190.1 L238.1 188.8 L236.5 186.5 L235.4 183.5 L234.2 181.2 L233.8 179.2 L232.7 180.4 L231.5 182.3 L230.4 184.6 L229.2 184.0 L228.3 182.2 L227.5 180.3 L226.9 179.0 L227.0 181.0 L227.6 183.4 L228.1 185.0 L225.8 186.2 L223.5 186.9 L220.4 188.1 L219.1 188.3 L218.8 184.2 L217.7 180.4 L216.5 176.9 L215.0 174.2 L213.5 172.3 L212.1 170.0 L213.3 167.7 L214.6 166.2 L212.6 163.8 L211.0 162.3 L210.4 160.8Z"/>
<path class="c" fill="#7fcdbb" d="M255.8 147.9 L258.2 146.8 L259.3 146.4 L268.0 146.0 L268.0 225.2 L259.3 225.0 L256.0 224.7 L253.4 224.2 L253.1 222.0 L253.3 219.0 L253.0 216.3 L252.2 213.3 L251.3 210.3 L250.0 208.2 L248.9 206.2 L248.2 204.0 L247.7 202.0 L246.2 199.6 L244.7 197.2 L243.2 195.0 L241.7 193.0 L240.8 191.6 L239.9 190.1 L239.9 187.7 L240.6 186.7 L241.1 185.3 L241.4 183.0 L241.7 180.5 L241.9 178.0 L242.3 175.8 L243.5 174.8 L245.1 173.7 L246.6 170.6 L246.2 167.5 L247.4 164.5 L247.0 160.6 L248.5 157.9 L251.6 155.2 L255.1 153.3 L256.6 151.4 L255.8 147.9Z"/>
<path class="c" fill="#7fcdbb" d="M180.2 262.3 L182.2 263.5 L184.2 265.0 L186.4 267.6 L188.3 270.4 L189.9 273.8 L191.0 277.1 L191.2 280.0 L190.7 282.5 L189.4 284.4 L187.6 285.8 L185.5 286.5 L183.5 286.5 L182.0 284.9 L180.9 282.5 L180.0 279.2 L179.5 275.8 L179.3 271.5 L179.5 267.7 L179.7 264.6Z"/>
<path class="c" fill="#1d91c0" d="M18.0 180.4 L26.9 180.8 L31.0 181.1 L35.4 181.5 L37.8 182.0 L40.0 182.3 L40.6 185.5 L40.8 188.5 L41.2 190.0 L40.5 193.5 L40.0 196.2 L38.6 198.2 L37.0 200.0 L34.0 201.6 L30.8 203.0 L26.9 204.6 L18.0 208.0Z"/>
<path class="c" fill="#c7e9b4" d="M18.0 174.5 L26.9 173.8 L29.3 173.6 L31.5 173.0 L33.5 171.7 L35.4 170.0 L37.4 167.8 L39.2 165.4 L40.4 164.2 L41.6 163.6 L42.6 164.2 L43.1 165.6 L43.1 167.0 L43.0 168.5 L41.8 169.5 L40.8 170.8 L40.3 173.5 L40.0 176.2 L40.0 179.3 L40.0 182.3 L37.8 182.0 L35.4 181.5 L31.0 181.1 L26.9 180.8 L18.0 180.4Z"/>
<path class="c" fill="#1d91c0" d="M43.0 168.5 L44.8 170.8 L47.0 173.0 L49.2 174.4 L51.5 175.4 L54.3 176.5 L57.0 177.7 L59.0 179.1 L60.8 180.8 L62.5 182.7 L63.9 184.7 L63.4 187.0 L62.3 189.2 L61.5 190.5 L60.6 192.5 L59.2 194.6 L57.8 196.2 L56.2 197.7 L55.2 200.0 L54.6 202.3 L55.2 203.8 L55.4 205.4 L53.5 206.0 L51.5 207.0 L50.2 209.0 L49.2 210.8 L47.3 211.0 L45.4 211.5 L43.8 213.0 L42.3 214.6 L41.7 216.2 L41.5 217.7 L38.5 218.0 L35.4 218.5 L33.0 219.2 L30.8 220.0 L29.0 217.5 L26.9 214.6 L18.0 208.5 L18.0 208.0 L26.9 204.6 L30.8 203.0 L34.0 201.6 L37.0 200.0 L38.6 198.2 L40.0 196.2 L40.5 193.5 L41.2 190.0 L40.8 188.5 L40.6 185.5 L40.0 182.3 L40.0 179.3 L40.0 176.2 L40.3 173.5 L40.8 170.8 L41.8 169.5 L43.0 168.5Z"/>
<path class="c" fill="#c7e9b4" d="M30.8 220.0 L29.0 217.5 L26.9 214.6 L18.0 208.5 L18.0 222.0 L26.9 221.0 L28.8 220.6 L30.8 220.0Z"/>
<path class="c" fill="#2b4b6b" d="M42.2 160.4 L42.9 160.0 L43.4 160.8 L43.3 162.4 L43.5 164.0 L42.8 164.5 L42.2 163.2 L42.0 161.6Z"/>
<path class="c" fill="#2b4b6b" d="M58.7 195.2 L59.6 195.5 L60.0 197.0 L59.3 197.9 L58.7 196.8Z"/>
<path class="c" fill="#3b6b6b" d="M36.3 157.6 L38.2 156.9 L39.6 156.3 L39.8 156.9 L38.4 157.7 L36.6 158.2Z"/>
<path class="c" fill="#8aa090" d="M33.0 245.2 L34.4 244.2 L36.6 243.9 L38.8 244.3 L40.0 245.4 L38.8 246.6 L36.4 247.0 L34.2 246.6Z"/>
<path class="c" fill="#7f7f7f" d="M117.3 96.0 L119.0 94.3 L124.8 93.1 L128.3 92.5 L131.7 94.8 L136.9 98.3 L142.7 102.3 L147.3 105.8 L151.3 111.0 L154.2 115.6 L156.3 120.4 L155.0 121.6 L153.1 121.5 L147.3 119.8 L142.7 118.7 L139.8 119.2 L136.3 122.7 L132.3 120.4 L129.4 117.9 L126.5 115.8 L124.8 110.4 L124.2 107.0 L121.9 103.5 L119.0 100.6 L117.3 98.3Z"/>
</g>
<path d="M125.3 108.9 L127.5 108.2 L130.0 108.1 L132.5 109.0 L134.6 109.3 L136.5 108.4 L138.1 107.5 L141.0 106.8" fill="none" stroke="#3a3a44" stroke-width="0.9"/>
<path d="M127.7 92.0 L128.3 92.5 L131.7 94.8 L136.9 98.3 L142.7 102.3 L147.3 105.8 L151.3 111.0 L154.2 115.6 L156.3 120.4 L155.0 121.6" fill="none" stroke="#2c2c2c" stroke-width="1.1"/>
<path d="M121.9 103.5 L124.2 107.0 L124.8 110.4 L126.5 115.8 L129.4 117.9 L132.3 120.4 L136.3 122.7" fill="none" stroke="#2c2c38" stroke-width="1.1"/>
<path d="M229.9 156.0 L235.8 156.4 L238.5 155.2 L241.2 152.5 L245.1 149.8 L248.9 147.9 L252.0 149.1 L255.1 150.6 L256.6 151.4" fill="none" stroke="#24403f" stroke-width="0.7"/>
<path d="M248.3 238.8 L248.1 242.0 L248.3 245.0 L247.9 248.0 L247.8 251.6" fill="none" stroke="#555" stroke-width="0.9"/>
<circle cx="247.4" cy="256.8" r="0.7" fill="#555"/>
<circle cx="253.6" cy="273.5" r="0.6" fill="#555"/>
<circle cx="255.7" cy="279.3" r="0.8" fill="#555"/>
<circle cx="248.0" cy="204.6" r="0.6" fill="#555"/>
</g></g>
<rect x="26.7" y="452.4" width="232.8" height="381.2" fill="none" stroke="#0a0a0a" stroke-width="1.4"/>
<line x1="26.7" y1="505.2" x2="259.5" y2="505.2" stroke="#111" stroke-width="1.3"/>
<text class="t1" text-anchor="middle" x="142.6" y="467.6" textLength="212.5" lengthAdjust="spacingAndGlyphs">Age-Standardized Rate (World) per</text>
<text class="t1" text-anchor="middle" x="143.2" y="483.3" textLength="203.4" lengthAdjust="spacingAndGlyphs">100 000, Incidence, Males, in 2022</text>
<text class="t3" text-anchor="middle" x="143.2" y="498.3" textLength="96.6" lengthAdjust="spacingAndGlyphs">Non-Hodgkin lymphoma</text>
<text class="lt" x="34.1" y="723.4" textLength="111.3" lengthAdjust="spacingAndGlyphs">ASR (World) per 100 000</text>
<rect x="33.8" y="730.75" width="28.4" height="6.8" fill="#0c2c84"/>
<text class="ll" x="66.5" y="737.35">8.1-9.1</text>
<rect x="33.8" y="743.48" width="28.4" height="6.8" fill="#225ea8"/>
<text class="ll" x="66.5" y="750.08">7.1-8.1</text>
<rect x="33.8" y="756.21" width="28.4" height="6.8" fill="#1d91c0"/>
<text class="ll" x="66.5" y="762.81">6.0-7.1</text>
<rect x="33.8" y="768.94" width="28.4" height="6.8" fill="#41b6c4"/>
<text class="ll" x="66.5" y="775.54">5.0-6.0</text>
<rect x="33.8" y="781.67" width="28.4" height="6.8" fill="#7fcdbb"/>
<text class="ll" x="66.5" y="788.27">4.0-5.0</text>
<rect x="33.8" y="794.40" width="28.4" height="6.8" fill="#c7e9b4"/>
<text class="ll" x="66.5" y="801.00">3.0-4.0</text>
<rect x="33.8" y="807.13" width="28.4" height="6.8" fill="#edf8b1"/>
<text class="ll" x="66.5" y="813.73">2.0-3.0</text>
<rect x="33.8" y="819.86" width="28.4" height="6.8" fill="#ffffd9"/>
<text class="ll" x="66.5" y="826.46">0.9-2.0</text>
<rect x="154.3" y="730.75" width="29" height="6.8" fill="#808080"/>
<text class="ll" x="188.0" y="737.35">Not applicable</text>
<rect x="154.3" y="743.48" width="29" height="6.8" fill="#eeeeee"/>
<text class="ll" x="188.0" y="750.08">No data</text>
</g>
<g>
<clipPath id="cp3"><rect x="277.6" y="504.5" width="232.4" height="329.1"/></clipPath>
<g clip-path="url(#cp3)"><g transform="translate(249.9 422.1)">
<g style="stroke:#24403f">
<path class="c" fill="#7fcdbb" d="M127.7 92.0 L126.5 88.0 L124.8 84.5 L123.0 82.2 L122.0 74.0 L268.0 74.0 L268.0 146.0 L259.3 146.4 L258.2 146.8 L255.8 147.9 L252.8 146.8 L250.5 143.7 L248.2 140.6 L244.3 142.5 L240.5 141.4 L238.5 143.7 L235.1 145.6 L232.8 148.7 L229.9 151.2 L229.6 152.3 L226.8 150.2 L223.8 148.5 L220.8 147.4 L217.9 147.2 L215.4 148.6 L214.3 150.2 L213.8 148.9 L212.8 148.3 L211.9 149.2 L208.5 150.2 L202.7 149.8 L196.9 148.7 L191.7 146.3 L187.1 143.5 L183.1 141.2 L178.5 138.8 L173.8 135.4 L171.0 134.2 L168.1 136.5 L164.0 133.7 L160.0 130.6 L157.5 128.9 L154.8 126.7 L153.8 123.3 L155.0 121.6 L156.3 120.4 L154.2 115.6 L151.3 111.0 L147.3 105.8 L142.7 102.3 L136.9 98.3 L131.7 94.8 L128.3 92.5 L127.7 92.0Z"/>
<path class="c" fill="#c7e9b4" d="M18.0 88.2 L26.8 87.5 L30.0 86.2 L33.2 85.7 L36.0 86.6 L38.6 88.0 L42.0 89.0 L45.0 89.6 L47.9 91.5 L51.7 94.4 L55.6 96.3 L58.0 97.8 L58.6 100.0 L58.9 102.1 L58.0 106.0 L56.5 110.8 L58.0 114.6 L59.4 119.4 L59.6 121.0 L61.1 125.8 L65.9 128.2 L66.8 131.5 L64.9 134.4 L63.5 137.8 L65.9 140.7 L69.2 144.0 L74.0 147.4 L76.0 150.8 L75.5 153.7 L77.9 155.6 L76.9 158.0 L73.1 159.4 L71.2 162.3 L71.4 165.0 L71.6 167.1 L62.5 165.7 L55.8 164.2 L50.8 162.6 L48.6 161.4 L47.0 159.2 L45.6 157.4 L44.8 155.6 L43.5 154.6 L41.5 154.4 L39.0 155.0 L37.0 156.2 L35.0 157.0 L32.3 157.0 L26.9 157.7 L18.0 158.2Z"/>
<path class="c" fill="#ffffd9" d="M58.9 102.1 L58.6 100.0 L58.0 97.8 L55.6 96.3 L51.7 94.4 L47.9 91.5 L45.0 89.6 L42.0 89.0 L38.6 88.0 L36.0 86.6 L33.2 85.7 L30.0 86.2 L26.8 87.5 L18.0 88.2 L18.0 74.0 L71.0 74.0 L71.5 81.0 L72.9 82.4 L76.7 84.8 L80.6 86.7 L82.0 89.1 L79.6 91.1 L76.3 93.0 L75.8 95.9 L72.9 98.8 L69.0 100.7 L68.1 103.6 L65.2 104.5 L61.8 103.6 L58.9 102.1Z"/>
<path class="c" fill="#edf8b1" d="M82.0 89.1 L80.6 86.7 L76.7 84.8 L72.9 82.4 L71.5 81.0 L71.0 74.0 L91.0 74.0 L90.7 82.4 L91.6 85.8 L90.7 88.7 L91.2 92.5 L90.2 91.5 L86.3 91.1 L83.9 89.6 L82.0 89.1Z"/>
<path class="c" fill="#edf8b1" d="M91.2 92.5 L90.7 88.7 L91.6 85.8 L90.7 82.4 L91.0 74.0 L122.0 74.0 L123.0 82.2 L124.8 84.5 L126.5 88.0 L127.7 92.0 L124.8 90.8 L121.3 91.4 L117.3 92.5 L112.7 94.6 L111.5 95.2 L109.8 92.5 L108.0 88.0 L107.4 86.0 L106.3 84.5 L103.5 85.0 L102.3 86.6 L101.2 89.0 L98.5 89.6 L96.2 90.8 L95.0 91.5 L93.1 93.0 L91.2 92.5Z"/>
<path class="c" fill="#edf8b1" d="M58.9 102.1 L61.8 103.6 L65.2 104.5 L68.1 103.6 L69.0 100.7 L72.9 98.8 L75.8 95.9 L76.3 93.0 L79.6 91.1 L82.0 89.1 L83.9 89.6 L86.3 91.1 L90.2 91.5 L91.2 92.5 L93.1 93.0 L95.0 91.5 L96.2 90.8 L98.5 89.6 L101.2 89.0 L102.3 86.6 L103.5 85.0 L106.3 84.5 L107.4 86.0 L108.0 88.0 L109.8 92.5 L111.5 95.2 L112.7 94.6 L117.3 92.5 L121.3 91.4 L124.8 90.8 L127.7 92.0 L124.8 92.6 L121.5 93.2 L117.3 94.2 L113.3 95.9 L112.1 98.3 L111.7 101.0 L112.7 105.8 L112.2 108.7 L111.3 111.5 L106.9 112.5 L107.9 115.4 L105.5 118.3 L104.5 122.1 L104.1 124.0 L103.6 126.4 L100.0 126.8 L96.8 127.9 L93.9 129.3 L91.5 131.7 L90.9 135.4 L88.5 138.3 L82.7 139.7 L75.0 140.7 L67.3 139.7 L63.5 137.8 L64.9 134.4 L66.8 131.5 L65.9 128.2 L61.1 125.8 L59.6 121.0 L59.4 119.4 L58.0 114.6 L56.5 110.8 L58.0 106.0 L58.9 102.1Z"/>
<path class="c" fill="#7fcdbb" d="M63.5 137.8 L67.3 139.7 L75.0 140.7 L82.7 139.7 L88.5 138.3 L90.9 135.4 L91.5 131.7 L93.9 129.3 L96.8 127.9 L100.0 126.8 L103.6 126.4 L104.1 124.0 L104.5 122.1 L105.5 118.3 L107.9 115.4 L106.9 112.5 L111.3 111.5 L112.2 108.7 L112.7 105.8 L111.7 101.0 L112.1 98.3 L113.3 95.9 L117.3 96.0 L117.3 98.3 L119.0 100.6 L121.9 103.5 L124.2 107.0 L124.8 110.4 L126.5 115.8 L129.4 117.9 L132.3 120.4 L136.3 122.7 L133.5 126.2 L132.9 130.8 L130.6 134.8 L128.8 139.7 L125.6 144.2 L123.1 147.7 L121.9 149.1 L118.5 150.4 L115.2 150.1 L114.2 152.5 L111.8 154.9 L112.8 157.8 L115.2 159.2 L116.6 162.6 L119.5 165.0 L121.0 168.4 L120.5 172.2 L116.2 173.2 L110.4 174.6 L108.5 176.3 L106.5 176.1 L103.7 173.7 L100.8 171.3 L97.9 167.9 L95.0 165.7 L93.0 166.0 L88.5 166.6 L78.8 167.1 L71.6 167.1 L71.4 165.0 L71.2 162.3 L73.1 159.4 L76.9 158.0 L77.9 155.6 L75.5 153.7 L76.0 150.8 L74.0 147.4 L69.2 144.0 L65.9 140.7 L63.5 137.8Z"/>
<path class="c" fill="#edf8b1" d="M108.5 176.3 L110.4 174.6 L116.2 173.2 L120.5 172.2 L121.0 168.4 L119.5 165.0 L116.6 162.6 L115.2 159.2 L112.8 157.8 L111.8 154.9 L114.2 152.5 L115.2 150.1 L118.5 150.4 L121.9 149.1 L123.1 147.7 L125.6 144.2 L128.8 139.7 L130.6 134.8 L132.9 130.8 L133.5 126.2 L136.3 122.7 L139.8 119.2 L142.7 118.7 L147.3 119.8 L153.1 121.5 L155.0 121.6 L153.8 123.3 L154.8 126.7 L157.5 128.9 L160.0 130.6 L164.0 133.7 L168.1 136.5 L165.8 138.8 L165.2 144.0 L170.4 146.3 L176.2 148.7 L181.9 151.5 L186.5 152.7 L191.2 154.4 L196.9 156.7 L202.7 158.5 L207.3 159.4 L210.8 158.5 L211.8 156.0 L212.5 153.3 L211.9 149.2 L212.8 148.3 L213.8 148.9 L214.3 150.2 L213.5 152.3 L213.5 154.3 L214.6 155.9 L216.7 156.8 L220.0 157.0 L223.8 157.1 L226.5 156.9 L229.8 156.3 L230.2 154.6 L229.6 152.3 L229.9 151.2 L232.8 148.7 L235.1 145.6 L238.5 143.7 L240.5 141.4 L244.3 142.5 L248.2 140.6 L250.5 143.7 L252.8 146.8 L255.8 147.9 L256.6 151.4 L255.1 153.3 L251.6 155.2 L248.5 157.9 L247.0 160.6 L247.4 164.5 L246.2 167.5 L246.6 170.6 L245.1 173.7 L243.5 174.8 L242.3 175.8 L241.9 178.0 L241.7 180.5 L241.4 183.0 L241.1 185.3 L240.6 186.7 L239.9 187.7 L239.2 187.3 L238.1 184.2 L237.3 181.2 L236.2 178.1 L235.4 176.2 L233.5 176.9 L231.9 178.5 L230.0 177.3 L229.6 175.0 L231.5 173.1 L233.8 170.8 L235.0 168.5 L232.7 167.3 L228.1 166.9 L224.2 166.5 L221.5 165.4 L220.0 163.1 L217.7 161.5 L215.0 162.3 L213.3 160.6 L211.4 159.0 L210.4 160.8 L211.0 162.3 L212.6 163.8 L214.6 166.2 L213.3 167.7 L212.1 170.0 L213.5 172.3 L215.0 174.2 L216.5 176.9 L217.7 180.4 L218.8 184.2 L219.1 188.3 L216.2 188.1 L212.7 189.2 L210.4 191.5 L210.4 195.0 L208.1 199.0 L203.5 200.8 L200.6 204.8 L197.7 208.8 L195.0 211.4 L193.1 213.5 L189.6 216.5 L188.3 218.5 L186.9 220.6 L184.0 222.6 L181.5 223.9 L179.3 225.8 L178.2 227.3 L177.2 230.0 L176.8 232.7 L177.6 237.5 L178.2 242.1 L177.5 247.0 L176.8 251.5 L177.3 256.0 L177.5 259.6 L175.8 261.6 L174.1 263.6 L172.4 266.5 L170.8 269.0 L169.2 271.2 L167.4 272.4 L165.6 271.7 L164.0 270.4 L161.8 267.9 L160.0 265.0 L157.3 258.3 L153.9 250.2 L149.2 240.8 L145.2 231.3 L141.2 221.9 L138.5 212.5 L136.9 207.0 L135.8 203.1 L135.2 199.0 L134.6 195.0 L133.9 191.0 L133.0 187.6 L132.0 184.7 L131.1 187.1 L130.1 190.0 L127.2 192.9 L123.8 193.8 L120.5 192.4 L117.6 190.0 L114.7 187.1 L112.8 184.7 L115.7 183.8 L118.6 182.3 L120.0 180.4 L117.1 181.3 L113.3 180.4 L110.4 178.0 L108.5 176.3Z"/>
<path class="c" fill="#ffffd9" d="M168.1 136.5 L171.0 134.2 L173.8 135.4 L178.5 138.8 L183.1 141.2 L187.1 143.5 L191.7 146.3 L196.9 148.7 L202.7 149.8 L208.5 150.2 L211.9 149.2 L212.5 153.3 L211.8 156.0 L210.8 158.5 L207.3 159.4 L202.7 158.5 L196.9 156.7 L191.2 154.4 L186.5 152.7 L181.9 151.5 L176.2 148.7 L170.4 146.3 L165.2 144.0 L165.8 138.8 L168.1 136.5Z"/>
<path class="c" fill="#edf8b1" d="M214.3 150.2 L215.4 148.6 L217.9 147.2 L220.8 147.4 L223.8 148.5 L226.8 150.2 L229.6 152.3 L230.2 154.6 L229.8 156.3 L226.5 156.9 L223.8 157.1 L220.0 157.0 L216.7 156.8 L214.6 155.9 L213.5 154.3 L213.5 152.3 L214.3 150.2Z"/>
<path class="c" fill="#ffffd9" d="M210.4 160.8 L211.4 159.0 L213.3 160.6 L215.0 162.3 L217.7 161.5 L220.0 163.1 L221.5 165.4 L224.2 166.5 L228.1 166.9 L232.7 167.3 L235.0 168.5 L233.8 170.8 L231.5 173.1 L229.6 175.0 L230.0 177.3 L231.9 178.5 L233.5 176.9 L235.4 176.2 L236.2 178.1 L237.3 181.2 L238.1 184.2 L239.2 187.3 L239.9 187.7 L239.9 190.1 L238.1 188.8 L236.5 186.5 L235.4 183.5 L234.2 181.2 L233.8 179.2 L232.7 180.4 L231.5 182.3 L230.4 184.6 L229.2 184.0 L228.3 182.2 L227.5 180.3 L226.9 179.0 L227.0 181.0 L227.6 183.4 L228.1 185.0 L225.8 186.2 L223.5 186.9 L220.4 188.1 L219.1 188.3 L218.8 184.2 L217.7 180.4 L216.5 176.9 L215.0 174.2 L213.5 172.3 L212.1 170.0 L213.3 167.7 L214.6 166.2 L212.6 163.8 L211.0 162.3 L210.4 160.8Z"/>
<path class="c" fill="#c7e9b4" d="M255.8 147.9 L258.2 146.8 L259.3 146.4 L268.0 146.0 L268.0 225.2 L259.3 225.0 L256.0 224.7 L253.4 224.2 L253.1 222.0 L253.3 219.0 L253.0 216.3 L252.2 213.3 L251.3 210.3 L250.0 208.2 L248.9 206.2 L248.2 204.0 L247.7 202.0 L246.2 199.6 L244.7 197.2 L243.2 195.0 L241.7 193.0 L240.8 191.6 L239.9 190.1 L239.9 187.7 L240.6 186.7 L241.1 185.3 L241.4 183.0 L241.7 180.5 L241.9 178.0 L242.3 175.8 L243.5 174.8 L245.1 173.7 L246.6 170.6 L246.2 167.5 L247.4 164.5 L247.0 160.6 L248.5 157.9 L251.6 155.2 L255.1 153.3 L256.6 151.4 L255.8 147.9Z"/>
<path class="c" fill="#c7e9b4" d="M180.2 262.3 L182.2 263.5 L184.2 265.0 L186.4 267.6 L188.3 270.4 L189.9 273.8 L191.0 277.1 L191.2 280.0 L190.7 282.5 L189.4 284.4 L187.6 285.8 L185.5 286.5 L183.5 286.5 L182.0 284.9 L180.9 282.5 L180.0 279.2 L179.5 275.8 L179.3 271.5 L179.5 267.7 L179.7 264.6Z"/>
<path class="c" fill="#2a9cc6" d="M18.0 180.4 L26.9 180.8 L31.0 181.1 L35.4 181.5 L37.8 182.0 L40.0 182.3 L40.6 185.5 L40.8 188.5 L41.2 190.0 L40.5 193.5 L40.0 196.2 L38.6 198.2 L37.0 200.0 L34.0 201.6 L30.8 203.0 L26.9 204.6 L18.0 208.0Z"/>
<path class="c" fill="#1d91c0" d="M18.0 174.5 L26.9 173.8 L29.3 173.6 L31.5 173.0 L33.5 171.7 L35.4 170.0 L37.4 167.8 L39.2 165.4 L40.4 164.2 L41.6 163.6 L42.6 164.2 L43.1 165.6 L43.1 167.0 L43.0 168.5 L41.8 169.5 L40.8 170.8 L40.3 173.5 L40.0 176.2 L40.0 179.3 L40.0 182.3 L37.8 182.0 L35.4 181.5 L31.0 181.1 L26.9 180.8 L18.0 180.4Z"/>
<path class="c" fill="#225ea8" d="M43.0 168.5 L44.8 170.8 L47.0 173.0 L49.2 174.4 L51.5 175.4 L54.3 176.5 L57.0 177.7 L59.0 179.1 L60.8 180.8 L62.5 182.7 L63.9 184.7 L63.4 187.0 L62.3 189.2 L61.5 190.5 L60.6 192.5 L59.2 194.6 L57.8 196.2 L56.2 197.7 L55.2 200.0 L54.6 202.3 L55.2 203.8 L55.4 205.4 L53.5 206.0 L51.5 207.0 L50.2 209.0 L49.2 210.8 L47.3 211.0 L45.4 211.5 L43.8 213.0 L42.3 214.6 L41.7 216.2 L41.5 217.7 L38.5 218.0 L35.4 218.5 L33.0 219.2 L30.8 220.0 L29.0 217.5 L26.9 214.6 L18.0 208.5 L18.0 208.0 L26.9 204.6 L30.8 203.0 L34.0 201.6 L37.0 200.0 L38.6 198.2 L40.0 196.2 L40.5 193.5 L41.2 190.0 L40.8 188.5 L40.6 185.5 L40.0 182.3 L40.0 179.3 L40.0 176.2 L40.3 173.5 L40.8 170.8 L41.8 169.5 L43.0 168.5Z"/>
<path class="c" fill="#7fcdbb" d="M30.8 220.0 L29.0 217.5 L26.9 214.6 L18.0 208.5 L18.0 222.0 L26.9 221.0 L28.8 220.6 L30.8 220.0Z"/>
<path class="c" fill="#2b4b6b" d="M42.2 160.4 L42.9 160.0 L43.4 160.8 L43.3 162.4 L43.5 164.0 L42.8 164.5 L42.2 163.2 L42.0 161.6Z"/>
<path class="c" fill="#2b4b6b" d="M58.7 195.2 L59.6 195.5 L60.0 197.0 L59.3 197.9 L58.7 196.8Z"/>
<path class="c" fill="#3b6b6b" d="M36.3 157.6 L38.2 156.9 L39.6 156.3 L39.8 156.9 L38.4 157.7 L36.6 158.2Z"/>
<path class="c" fill="#8aa090" d="M33.0 245.2 L34.4 244.2 L36.6 243.9 L38.8 244.3 L40.0 245.4 L38.8 246.6 L36.4 247.0 L34.2 246.6Z"/>
<path class="c" fill="#7f7f7f" d="M117.3 96.0 L119.0 94.3 L124.8 93.1 L128.3 92.5 L131.7 94.8 L136.9 98.3 L142.7 102.3 L147.3 105.8 L151.3 111.0 L154.2 115.6 L156.3 120.4 L155.0 121.6 L153.1 121.5 L147.3 119.8 L142.7 118.7 L139.8 119.2 L136.3 122.7 L132.3 120.4 L129.4 117.9 L126.5 115.8 L124.8 110.4 L124.2 107.0 L121.9 103.5 L119.0 100.6 L117.3 98.3Z"/>
</g>
<path d="M125.3 108.9 L127.5 108.2 L130.0 108.1 L132.5 109.0 L134.6 109.3 L136.5 108.4 L138.1 107.5 L141.0 106.8" fill="none" stroke="#3a3a44" stroke-width="0.9"/>
<path d="M127.7 92.0 L128.3 92.5 L131.7 94.8 L136.9 98.3 L142.7 102.3 L147.3 105.8 L151.3 111.0 L154.2 115.6 L156.3 120.4 L155.0 121.6" fill="none" stroke="#2c2c2c" stroke-width="1.1"/>
<path d="M121.9 103.5 L124.2 107.0 L124.8 110.4 L126.5 115.8 L129.4 117.9 L132.3 120.4 L136.3 122.7" fill="none" stroke="#2c2c38" stroke-width="1.1"/>
<path d="M229.9 156.0 L235.8 156.4 L238.5 155.2 L241.2 152.5 L245.1 149.8 L248.9 147.9 L252.0 149.1 L255.1 150.6 L256.6 151.4" fill="none" stroke="#24403f" stroke-width="0.7"/>
<path d="M248.3 238.8 L248.1 242.0 L248.3 245.0 L247.9 248.0 L247.8 251.6" fill="none" stroke="#555" stroke-width="0.9"/>
<circle cx="247.4" cy="256.8" r="0.7" fill="#555"/>
<circle cx="253.6" cy="273.5" r="0.6" fill="#555"/>
<circle cx="255.7" cy="279.3" r="0.8" fill="#555"/>
<circle cx="248.0" cy="204.6" r="0.6" fill="#555"/>
</g></g>
<rect x="277.6" y="452.4" width="232.4" height="381.2" fill="none" stroke="#0a0a0a" stroke-width="1.4"/>
<line x1="277.6" y1="505.2" x2="510.1" y2="505.2" stroke="#111" stroke-width="1.3"/>
<text class="t1" text-anchor="middle" x="393.4" y="467.6" textLength="212.5" lengthAdjust="spacingAndGlyphs">Age-Standardized Rate (World) per</text>
<text class="t1" text-anchor="middle" x="394.0" y="483.3" textLength="218.4" lengthAdjust="spacingAndGlyphs">100 000, Incidence, Females, in 2022</text>
<text class="t3" text-anchor="middle" x="394.0" y="498.3" textLength="96.6" lengthAdjust="spacingAndGlyphs">Non-Hodgkin lymphoma</text>
<text class="lt" x="285.1" y="723.4" textLength="111.3" lengthAdjust="spacingAndGlyphs">ASR (World) per 100 000</text>
<rect x="284.8" y="730.75" width="28.4" height="6.8" fill="#0c2c84"/>
<text class="ll" x="317.5" y="737.35">6.6-10.6</text>
<rect x="284.8" y="743.48" width="28.4" height="6.8" fill="#225ea8"/>
<text class="ll" x="317.5" y="750.08">5.5-6.6</text>
<rect x="284.8" y="756.21" width="28.4" height="6.8" fill="#1d91c0"/>
<text class="ll" x="317.5" y="762.81">4.6-5.5</text>
<rect x="284.8" y="768.94" width="28.4" height="6.8" fill="#41b6c4"/>
<text class="ll" x="317.5" y="775.54">3.6-4.6</text>
<rect x="284.8" y="781.67" width="28.4" height="6.8" fill="#7fcdbb"/>
<text class="ll" x="317.5" y="788.27">2.8-3.6</text>
<rect x="284.8" y="794.40" width="28.4" height="6.8" fill="#c7e9b4"/>
<text class="ll" x="317.5" y="801.00">2.2-2.8</text>
<rect x="284.8" y="807.13" width="28.4" height="6.8" fill="#edf8b1"/>
<text class="ll" x="317.5" y="813.73">1.6-2.2</text>
<rect x="284.8" y="819.86" width="28.4" height="6.8" fill="#ffffd9"/>
<text class="ll" x="317.5" y="826.46">1.2-1.6</text>
<rect x="405.3" y="730.75" width="29" height="6.8" fill="#808080"/>
<text class="ll" x="439.0" y="737.35">Not applicable</text>
<rect x="405.3" y="743.48" width="29" height="6.8" fill="#eeeeee"/>
<text class="ll" x="439.0" y="750.08">No data</text>
</g>
</svg></body></html>
